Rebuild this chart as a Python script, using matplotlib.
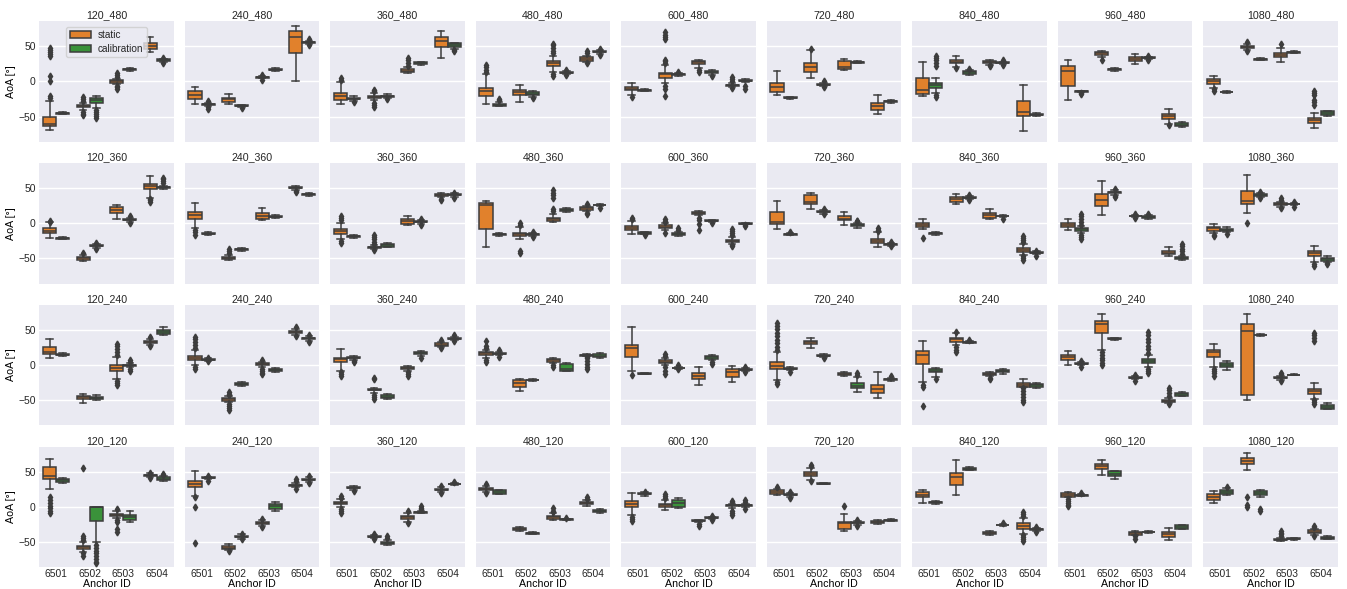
import matplotlib
matplotlib.use("Agg")
import matplotlib.pyplot as plt
from matplotlib.patches import Patch

# panels, left to right then top to bottom (title = x_y)
PANELS = ["120_480", "240_480", "360_480", "480_480", "600_480", "720_480", "840_480", "960_480", "1080_480",
          "120_360", "240_360", "360_360", "480_360", "600_360", "720_360", "840_360", "960_360", "1080_360",
          "120_240", "240_240", "360_240", "480_240", "600_240", "720_240", "840_240", "960_240", "1080_240",
          "120_120", "240_120", "360_120", "480_120", "600_120", "720_120", "840_120", "960_120", "1080_120"]
ANCHORS = ["6501", "6502", "6503", "6504"]
GROUPS = ["static", "calibration"]

# each row: 8 boxes -> 6501 static, 6501 calib, 6502 static, 6502 calib, ...
WHIS_LO = [
    [-69, -47, -41, -38.5, -4, 15.5, 41.5, 28.5],
    [-32.5, -35, -31.6, -36, 4.5, 15, 0, 53],
    [-32.5, -28, -27, -24, 12, 24, 34, 47],
    [-32.5, -35.5, -29.2, -22, 13.9, 10, 28.5, 39.5],
    [-19.6, -14, -2, 7.5, 18.6, 9.5, -8, -0.5],
    [-18.7, -24.5, 5.7, -7, 16.3, 26.5, -46.9, -30],
    [-20.6, -16.3, 21, 9.5, 24, 25, -70.8, -49],
    [-25.8, -15, 34.4, 15, 24.4, 32.5, -60.3, -65],
    [-8.6, -16, 45.5, 30.5, 27.8, 40.5, -66.5, -49],
    [-20.5, -23, -53.8, -35, 6.2, 2.5, 36.7, 49],
    [-7.1, -16.5, -53, -39, 4.3, 7.5, 48, 39],
    [-22.4, -21, -36, -34, -2.4, -0.5, 37.5, 38],
    [-34.3, -18, -22.4, -18, 1.9, 16, 17.5, 25],
    [-15.7, -15.5, -9, -18, 11.5, 2.5, -29, -1.5],
    [-8.1, -17, 20.5, 14, -2.4, -6, -33.8, -32],
    [-8.1, -16, 27.6, 35, 6.2, 9, -45.2, -44],
    [-10, -14, 11.9, 41, 9, 6.5, -46.7, -52],
    [-14.3, -13, 14.3, 38, 24, 25.5, -54.8, -55],
    [10, 13.5, -54.3, -50, -20, -3, 29, 42.9],
    [0.5, 6.5, -53, -29.5, -2, -9.5, 43, 35],
    [-7.6, 8, -39, -48, -8, 13, 26, 36],
    [11, 14, -36.2, -22, 3, -8.6, 13, 10],
    [-8.1, -13, 0, -5.5, -28.1, 8, -23.8, -8],
    [-21, -6.5, 24.3, 12, -16, -38.1, -46.2, -22],
    [-23.8, -17.1, 28.6, 31.5, -15.5, -12, -30.5, -32],
    [0, 0.5, 21.9, 36.5, -20, -1.9, -54, -44.5],
    [-1.9, -6.7, -50, 42.4, -20.5, -14.5, -48.1, -63],
    [26.3, 34, -63.6, -50.2, -15, -22, 43, 37],
    [15.3, 39.5, -61.5, -45, -27, -6.2, 28, 36],
    [0, 24, -44, -54.5, -21, -8.5, 22, 31.5],
    [21, 18, -33.5, -38.5, -18, -19, 2, -8],
    [-12, 16.5, -3.8, -1.4, -22, -17, -1, 0],
    [17.5, 15, 39.2, 32.5, -34, -25, -24.5, -19.5],
    [5.7, 5, 17.7, 52.5, -39.5, -27, -37.8, -34],
    [14, 15.5, 46.4, 40.2, -39.5, -36.5, -46.9, -31.5],
    [5.7, 17, 53.1, 14.8, -48.5, -46.5, -40, -46],
]
Q1 = [
    [-63, -46, -37, -30, -2, 16.5, 46, 29.5],
    [-24.4, -33, -29.2, -35, 5.5, 16, 40.2, 54.5],
    [-25.8, -25.5, -23, -22, 13.9, 24.9, 49.8, 49.8],
    [-20.6, -34.4, -18.7, -19.6, 21.5, 11.5, 29.7, 41.5],
    [-12.4, -13, 5.7, 9, 24.4, 12.5, -6.5, 0.5],
    [-14.4, -24, 13.9, -5, 18.2, 27, -40.2, -29],
    [-17.2, -8.6, 25.8, 10.5, 25.8, 26, -48.8, -48],
    [-6.7, -14.5, 37.8, 16, 29.7, 33.5, -53.1, -63.6],
    [-2.9, -15.3, 47.4, 31, 34.4, 41, -58.9, -48.3],
    [-14.3, -22, -51.9, -33, 14.3, 4.5, 48.6, 50.5],
    [6.2, -15.5, -51.4, -38, 6.2, 8.5, 50, 40],
    [-14.8, -19.5, -34.5, -33.3, -0.5, 1.5, 39.5, 39.8],
    [-8.1, -16.5, -18.6, -16.5, 3.3, 17.1, 19.5, 25.8],
    [-10, -14.5, -7.1, -16.7, 13.3, 3.3, -27.1, -1],
    [-0.5, -16.2, 28.1, 16, 4.3, -4.3, -28.6, -30.2],
    [-4.8, -15, 31, 36, 8.1, 10, -40.5, -43],
    [-4.8, -11, 25.2, 43.5, 9.8, 7.6, -44.3, -51.4],
    [-10.5, -10.5, 27.1, 39.5, 25.7, 27, -46.7, -53.3],
    [15.7, 14.3, -48.6, -48.6, -8.1, -0.5, 31.4, 44.3],
    [7.6, 7.5, -50.5, -28.6, 0, -8.6, 45.7, 37.8],
    [4.3, 10, -36, -46.7, -5.7, 15.7, 27.6, 37.5],
    [15.2, 16, -30.5, -21.5, 5.2, -7.6, 13.8, 11.9],
    [11.4, -12.5, 3.3, -4.5, -20, 9.5, -16.2, -7],
    [-5.7, -5.5, 30, 13, -14.3, -32.4, -39, -20.5],
    [1.9, -10, 33.8, 32.4, -14.3, -10, -30.5, -30.5],
    [8.1, 1.8, 45.7, 37.5, -18.8, 3.8, -52.4, -43.3],
    [11.9, -2.9, -42.4, 42.8, -18.8, -14.2, -40.5, -61.9],
    [40.7, 35.4, -59.8, -20.6, -12.4, -18.2, 44.5, 39.2],
    [28.7, 41, -59.8, -43, -24.4, -2.4, 30.5, 38.5],
    [4.3, 26.5, -43, -52.6, -16.7, -7.8, 24.2, 32.5],
    [23.9, 19.1, -32.5, -38, -16.7, -18.2, 4.3, -7.2],
    [0, 18, -0.5, -0.5, -20.3, -16, 1.8, 1.8],
    [19.1, 17, 44, 33, -30.6, -23, -23.4, -19.2],
    [13.9, 5.7, 32.1, 53.5, -38.8, -26.3, -30.6, -32.8],
    [14.8, 16.2, 54.5, 44, -39.2, -36, -42.6, -31.1],
    [10, 18.7, 60.8, 17.7, -47.5, -45.5, -37.3, -45.5],
]
MEDIAN = [
    [-60, -45.5, -35.5, -27, 0, 17.5, 51, 30.5],
    [-19.6, -32, -25.4, -34.5, 6.2, 17, 63.2, 56],
    [-21, -24.4, -21.5, -21, 15.5, 26, 57.4, 52],
    [-13.4, -33, -14.8, -17.5, 25.8, 12.4, 32.5, 42.6],
    [-10, -12.4, 10.5, 10, 27.3, 13.9, -5.7, 1.4],
    [-7.7, -23.4, 21, -4.3, 21, 27.8, -35.4, -28.2],
    [-12.4, -5.3, 28.2, 12.9, 27.8, 26.8, -43.5, -47.4],
    [15.3, -13.9, 40.7, 17.2, 32.5, 34, -49.3, -61.5],
    [0, -14.8, 49.3, 31.6, 38.3, 41.6, -55, -45.5],
    [-11, -21.4, -49.5, -31.9, 19, 5.2, 52.9, 51.5],
    [11.4, -14.8, -49.5, -37.1, 11, 9.5, 51, 41.4],
    [-11, -18.6, -33.8, -31, 3.3, 2.4, 41, 40.5],
    [26.2, -15.7, -15.7, -15.7, 6.2, 19, 21.4, 26.2],
    [-6.2, -13.8, -4.8, -14.8, 15.2, 3.8, -25.2, -0.5],
    [2, -15.7, 30, 16.7, 6.7, -2.4, -25.2, -29.5],
    [-1.9, -14.3, 34.3, 36.7, 11.4, 10.5, -37.6, -42.4],
    [-2, -8.6, 33.3, 44.3, 10.5, 9.5, -41.9, -50],
    [-7.1, -9, 31.9, 40.5, 27.1, 27.6, -42.9, -51],
    [19.5, 15.2, -45.7, -46.7, -3.8, 0, 33.3, 47.6],
    [11, 8.1, -48.6, -26.7, 1.4, -6.7, 47.6, 38.6],
    [8.6, 11, -35.2, -44.8, -4.3, 17.6, 29.5, 38.1],
    [17.6, 16.7, -25.2, -21, 7.1, -5.7, 14.3, 13.8],
    [24.3, -11.9, 5.2, -3.8, -15.2, 11.4, -10, -6.2],
    [-1, -4.8, 32.9, 13.8, -12.9, -29, -33.8, -20],
    [14.8, -7.6, 36.7, 32.9, -12.4, -8.1, -27.6, -28.6],
    [11.4, 2.4, 58.6, 38.1, -18.1, 6.2, -50.5, -41.4],
    [19, 0.5, 49, 43.3, -18.1, -13.8, -37.1, -59],
    [45, 38.3, -57.4, -0.5, -11, -14.8, 45.5, 40.7],
    [33, 41.6, -57.9, -42.1, -23, 1.9, 31.1, 39.2],
    [5.7, 27.3, -42.1, -50.7, -14.8, -7.2, 24.9, 33],
    [25.8, 22, -31.1, -37.3, -14.8, -17.7, 5.7, -5.3],
    [4.8, 18.7, 2.4, 5.7, -19.6, -15.3, 2.4, 2.4],
    [21.5, 17.7, 47.4, 33.5, -22.5, -22.5, -21, -18.7],
    [17.7, 6.7, 43.5, 54.5, -37.3, -25.8, -26.8, -32],
    [17.2, 16.7, 57.9, 47.4, -37.3, -35.4, -38.8, -28.7],
    [14.4, 22, 65.1, 20, -46.9, -45, -35, -43.5],
]
Q3 = [
    [-50, -45, -33, -23.5, 2, 18.5, 54.5, 31.5],
    [-13.4, -31.5, -23.4, -34, 7, 18, 72.7, 57],
    [-15.8, -23.5, -20, -20, 17.7, 27.8, 63.2, 54.5],
    [-8.6, -31.6, -11.5, -15.3, 28.7, 13.5, 35.4, 43.5],
    [-7.7, -11.8, 12.4, 11, 29.2, 15, -4.5, 2],
    [-2, -22.8, 26.8, -3.5, 28.7, 28.5, -30.6, -27.3],
    [4.3, -1.9, 30.6, 14.8, 29.2, 27.5, -27.8, -46.5],
    [22.5, -13.4, 42.6, 18.5, 34.9, 34.5, -45.9, -59.3],
    [2.9, -14.4, 51.2, 32.2, 41.1, 42.2, -51.7, -42.6],
    [-7.1, -21, -47.6, -31, 23.8, 6, 56.2, 52.5],
    [16.7, -14.3, -48.1, -36.4, 14.8, 10.5, 52.4, 42.5],
    [-8.1, -17.8, -33.2, -29, 6.2, 3, 42.4, 41.2],
    [28.6, -15, -13.3, -15, 8.1, 20.5, 23.3, 26.8],
    [-3.8, -13, -2.9, -13.3, 16.7, 4.3, -23.8, 0],
    [16.7, -15.2, 40, 17.5, 10.5, -1, -21.9, -29],
    [0.5, -13.5, 37.1, 37.5, 14.3, 11, -35.7, -41.5],
    [0.5, -6.7, 42.4, 45, 11.2, 11, -39.5, -48.6],
    [-4.8, -7.6, 46.7, 41.5, 28.6, 28.2, -39.5, -49],
    [26.7, 16.7, -43.8, -44.8, 0, 0.5, 34.8, 50.5],
    [13.8, 8.7, -47.1, -25.2, 2.9, -5.2, 49, 39.5],
    [10.5, 12, -34.5, -42.9, -2.9, 19, 31, 38.8],
    [19, 17.5, -21, -20.5, 9, 2.4, 14.8, 16.7],
    [29, -11.4, 7.1, -3.3, -11.4, 12.9, -4.8, -5.5],
    [4.3, -4, 34.8, 14.6, -11.4, -25.7, -28.1, -19.5],
    [20.5, -5.2, 39.5, 33.4, -11, -6.7, -25.7, -27.1],
    [14.8, 3, 63.3, 38.8, -17.4, 9, -49, -39.5],
    [22.4, 2.9, 59, 43.8, -17.4, -13.4, -33.8, -56.2],
    [56.9, 40.2, -55.5, 0.5, -9.6, -11, 46.2, 42.6],
    [36.8, 42.2, -55.5, -41, -21.5, 4.8, 31.8, 40],
    [6.7, 28, -41.2, -49.3, -12.4, -6.7, 25.5, 33.5],
    [27.8, 23.9, -29.7, -36.6, -12.4, -17.2, 7.2, -3.8],
    [8.6, 19.6, 4.8, 10.5, -19, -14.8, 3, 3],
    [23.9, 18.5, 49.8, 34, -21.5, -22, -19.6, -18.2],
    [21, 7.6, 48.8, 55.5, -35.4, -25.3, -23.4, -31.2],
    [19.6, 17.4, 61.7, 51.2, -35.4, -35, -35.4, -26.3],
    [18.2, 24.9, 69.4, 22.5, -46.2, -44.5, -33, -42.1],
]
WHIS_HI = [
    [-28, -44, -30, -20.5, 4, 19.5, 63, 32.5],
    [-7.7, -30, -17.2, -33, 8, 19.5, 78.5, 58.5],
    [-0.5, -21, -16, -18, 20, 28.5, 72.7, 55.5],
    [10.5, -29, -5.7, -14, 36.4, 15, 37, 45.5],
    [-2, -11, 23.4, 12.5, 30.6, 17, -2, 3],
    [14.8, -22, 45, -1.5, 32.5, 29, -18.7, -26],
    [28.2, 4.3, 36.4, 16.5, 31, 28.5, -4.3, -45.5],
    [30.1, -13, 44, 19.5, 38.8, 35.5, -38.8, -58],
    [8.1, -13.5, 53, 33, 47.4, 43, -45, -41.5],
    [1.4, -20, -45, -29, 26.2, 8, 68, 54],
    [28.6, -13, -45, -35.5, 22.4, 12, 54, 43.5],
    [1, -17, -31, -28, 10, 4.5, 44, 43],
    [32.4, -13.5, -4.8, -13.5, 12.9, 21.5, 25, 27.5],
    [3.3, -12, 0.5, -12, 18, 4.7, -20, 0.5],
    [32.4, -14, 43.8, 19, 15.7, 1, -12.9, -27.5],
    [6.2, -12.5, 42.4, 38.5, 20.5, 11.5, -30, -40],
    [6.2, -4, 60.5, 47, 12, 12.5, -34.3, -46.5],
    [-1.4, -5.5, 69, 43, 30.5, 29.5, -31.9, -47],
    [36.7, 17.5, -41.4, -43, 12.4, 3, 37.5, 54.3],
    [21.9, 10, -44, -24.5, 5, -4, 52, 42],
    [22.9, 13, -32, -40.5, -1.5, 20.5, 33, 40.5],
    [22, 19.5, -20, -20, 10, 2.9, 15.5, 17.5],
    [55, -11, 10, -2, -1.9, 14, -0.5, -4.5],
    [18.6, -3, 38.6, 16, -10, -17.1, -10, -18],
    [34.3, -3.3, 45.7, 34.5, -9, -5.5, -20, -25.5],
    [20.5, 4, 73.3, 39.5, -16, 14.8, -47, -38.5],
    [30.5, 6.2, 73.3, 44.3, -16, -13, -25.7, -54],
    [67.9, 41, -49.3, 0.5, -6, -6.2, 48, 44],
    [51.2, 43, -53, -39, -19, 6.7, 34, 42.5],
    [11, 30, -40, -46.5, -8.5, -6, 28, 35],
    [30, 25, -28, -36, -9, -16.5, 10, -2.5],
    [20.1, 21, 10.5, 12.9, -18, -14, 5, 5],
    [25.5, 20, 56, 34.5, -10, -20, -18, -17.5],
    [24.4, 8.5, 67.5, 56.5, -34, -24, -15.8, -30],
    [21, 18.5, 67.5, 51.2, -33.5, -34.5, -30.1, -26],
    [22.5, 26.5, 77, 24.9, -44, -44, -31, -41],
]
FLIERS = [
    [[48, 45, 42, 39, 36, 8, 1, -20, -24], [], [-22, -25, -28, -43, -46, -48], [-40, -43, -46, -49, -52], [6, 9, 12, -6, -8, -10], [], [], [27, 33]],
    [[], [-28, -37, -39], [], [-38], [9.5, 2.5], [], [], [60, 51.5]],
    [[2, 5], [-29.5], [-12, -14, -30, -33, -36], [-25], [22, 26, 30, 33], [], [], [45, 43]],
    [[14, 17, 20, 23], [-25, -27], [], [-24], [40, 44, 48, 52, 54, 11, 8], [9, 16], [40, 43, 27], [46.5, 38]],
    [[-22], [], [26, 29, 31, -6, -10, -20, 61, 64, 67, 70], [14], [16, 14], [8], [1, 4, 7, -9], [-7, -10]],
    [[], [], [47], [-8, 1], [], [], [], []],
    [[], [22, 26, 30, 34, 37, -19, -22], [19], [18], [21.5, 23], [23, 30], [], []],
    [[], [-17, -18], [31], [], [], [31, 37], [-62], []],
    [[-11, -13], [], [56, 43], [], [53.6], [], [-13, -16, -19, -26, -29, -33], []],
    [[2.5, 4], [], [-43], [-28, -36], [], [10, 1], [35, 33, 31], [57, 60, 63, 65]],
    [[-10, -13, -16], [], [-36, -39, -42], [], [], [], [45, 46.5], []],
    [[5, 8, 11, -25, -28], [], [-17, -20, -23, -26, -29, -38], [], [], [-2, 6], [33, 35], [36, 44]],
    [[], [], [-3, 0, -40, -43], [-12, -19], [36, 40, 44, 48, 17, 20], [], [27, 13, 15], [22.5]],
    [[6, 8], [-17], [2, 4, 6, -14], [-10, -6], [8, 5, -1, -10], [1], [-8, -11, -14, -17, -31, -32], [-3, -4]],
    [[], [-13], [], [13, 20], [], [3, 4], [-6, -9, -11], [-33, -26]],
    [[-20.5], [], [], [33, 40], [], [6], [-18, -21, -24, -27, -47, -50, -53], [-46, -39]],
    [[], [-2, 2, 6, 10, 14, -16, -20, -22], [], [37, 39, 49], [7.5, 13.5], [14], [], [-30, -33, -36, -40, -44]],
    [[-16, -18], [-15], [0], [36, 45], [22, 33, 36], [24, 31], [-58, -60.5], [-57, -58]],
    [[], [], [], [], [15, 19, 23, 27, 30, -22, -25, -28], [5, 7, -6, -8], [27, 40], []],
    [[25, 29, 33, 37, 40, -3, -5], [11, 5.5], [-38, -41, -43, -55, -58, -61, -64], [], [7, -5, -8, -11, -13], [], [54, 41], [33, 43]],
    [[-10, -13, -15], [6, 5], [-18, -20, -42, -45, -48], [], [-10, -13, -16], [11], [36, 25], [34, 43]],
    [[25, 27, 34, 7, 4], [12, 21], [], [], [-3, 0], [], [12, 10, 6, 2, -2, -5], []],
    [[-13.8], [], [13, 16, -3, -8, -13], [0, -6], [], [2, 5], [], [-10, -3]],
    [[21, 26, 31, 36, 41, 46, 51, 56, 60, -24, -27], [-10], [], [10], [], [-14, -11], [], [-16]],
    [[-28, -31, -58], [-19], [47, 26, 22, 19], [36], [-18, -20], [], [-33, -37, -41, -45, -49, -52], []],
    [[], [-2, 6], [19, 15, 11, 7, 3, 0], [], [-22, -14], [18, 23, 28, 33, 38, 43, 48, -5, -8, -11], [-32, -36, -40, -44, -56], []],
    [[-5, -8, -11, -15], [], [], [], [-22, -13, -11], [], [-50, -53, -56, 35, 39, 43, 46], []],
    [[14, 10, 6, 2, -2, -6, -9], [], [-41, -44, -47, -66, -70, 56], [-54, -58, -62, -66, -70, -74, -78, -80], [-3, -18, -21, -31, -35], [], [42, 49], [46, 47]],
    [[14, 0, -51.7], [37.5, 44], [-63], [-38, -46], [-17, -29], [], [26, 37, 40], [34, 44]],
    [[13, 15.5, -3, -6, -8], [22.5], [-38, -46], [-42, -44], [-5, -23], [-3, -1, 1], [20, 29.5], [36]],
    [[33, 20], [], [], [], [-7, -5, -2], [-15], [12, 15], []],
    [[-14, -17, -20], [22], [13, 16, 19], [], [-24, -27], [-13, -18.5], [7, 9, -5, -9, -11], [7, 10, -3]],
    [[28], [22, 13], [58, 60, 37], [], [1], [-27, -19], [], []],
    [[], [], [], [], [], [-23], [-7, -10, -13, -40, -43, -46, -49], [-36, -28]],
    [[12, 9, 6, 3, 1], [20], [], [], [-42, -45], [], [], []],
    [[], [28], [15, 3, 0], [-3, -6], [-42, -39, -37, -34], [], [-27, -29, -42], []],
]

COLORS = ["#E1812C", "#3A923A"]
LINE = "#3d3d3d"
LW = 1.1

plt.rcParams["font.family"] = ["Liberation Sans", "DejaVu Sans"]
plt.rcParams["text.color"] = "#262626"

fig, axes = plt.subplots(4, 9, figsize=(13.47, 5.89), dpi=100, sharex=True, sharey=True)
fig.subplots_adjust(left=0.0292, right=0.993, top=0.9643, bottom=0.0368, wspace=0.084, hspace=0.175)

positions = [a + off for a in range(len(ANCHORS)) for off in (-0.196, 0.196)]

for i, name in enumerate(PANELS):
    ax = axes[i // 9, i % 9]
    ax.set_facecolor("#EAEAF2")
    for s in ax.spines.values():
        s.set_visible(False)
    ax.set_axisbelow(True)
    ax.yaxis.grid(True, color="white", linewidth=1.0)
    ax.xaxis.grid(False)

    stats = []
    for k in range(8):
        stats.append(dict(whislo=WHIS_LO[i][k], q1=Q1[i][k], med=MEDIAN[i][k],
                          q3=Q3[i][k], whishi=WHIS_HI[i][k], fliers=FLIERS[i][k]))
    art = ax.bxp(stats, positions=positions, widths=0.392, patch_artist=True,
                 manage_ticks=False,
                 boxprops=dict(edgecolor=LINE, linewidth=LW),
                 medianprops=dict(color=LINE, linewidth=LW),
                 whiskerprops=dict(color=LINE, linewidth=LW),
                 capprops=dict(color=LINE, linewidth=LW),
                 flierprops=dict(marker="d", markerfacecolor=LINE, markeredgecolor=LINE,
                                 markersize=3.5, linestyle="none"))
    for k, box in enumerate(art["boxes"]):
        box.set_facecolor(COLORS[k % 2])

    ax.set_title(name, fontsize=7.7, pad=2)
    ax.set_xlim(-0.5, 3.5)
    ax.set_ylim(-86, 86.3)
    ax.set_yticks([-50, 0, 50])
    ax.set_xticks(range(len(ANCHORS)))
    ax.set_xticklabels(ANCHORS)
    ax.tick_params(length=0, labelsize=7.4, colors="#262626")
    ax.tick_params(axis="x", pad=1.5)
    ax.tick_params(axis="y", pad=2.5)
    if i % 9 == 0:
        ax.set_ylabel("AoA [°]", fontsize=7.7, labelpad=2)
    if i // 9 == 3:
        ax.set_xlabel("Anchor ID", fontsize=7.7, labelpad=-0.5)

handles = [Patch(facecolor=COLORS[j], edgecolor=LINE, linewidth=LW, label=GROUPS[j]) for j in range(2)]
axes[0, 0].legend(handles=handles, loc="upper left", bbox_to_anchor=(0.199, 0.953),
                  borderaxespad=0, fontsize=7.2, frameon=True, facecolor="#EAEAF2",
                  edgecolor="#cccccc", framealpha=0.8, handlelength=2.1, handleheight=0.7,
                  borderpad=0.35, labelspacing=0.35, handletextpad=0.7)

fig.savefig("out.png", dpi=100)
